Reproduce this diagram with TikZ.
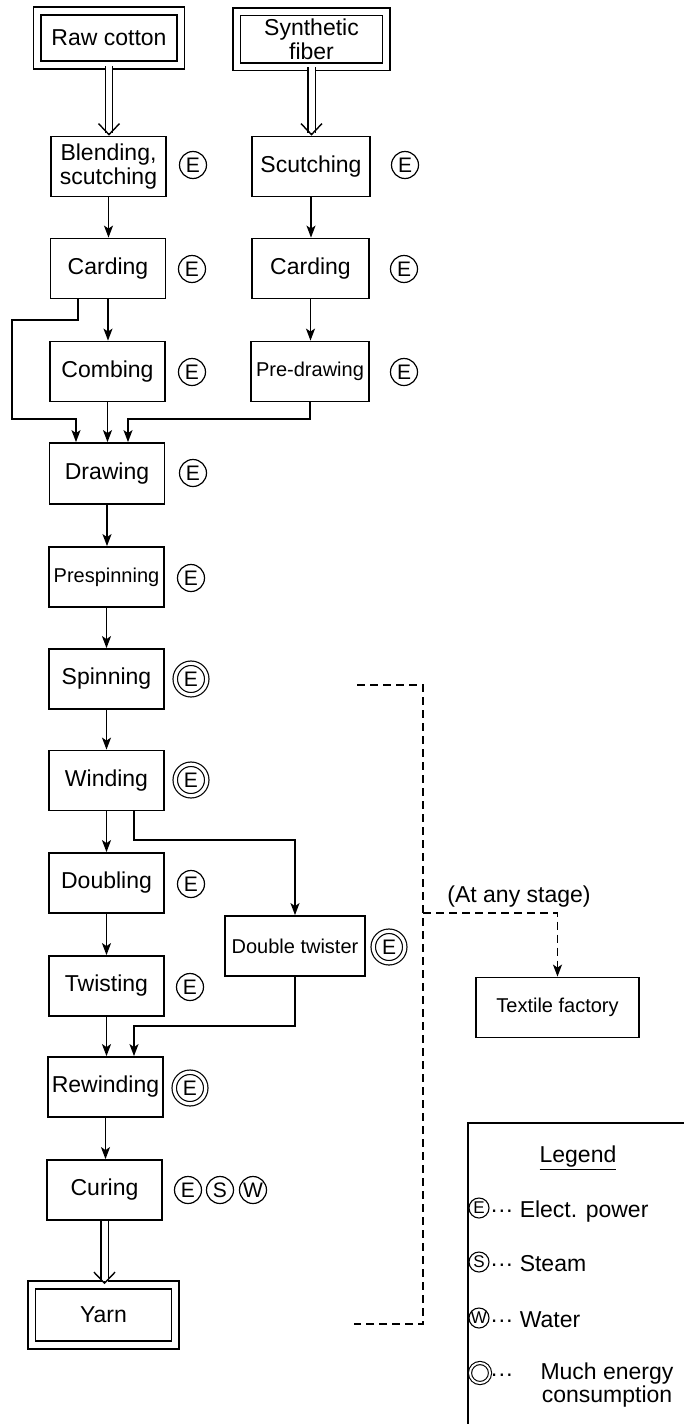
\documentclass[tikz,border=0pt]{standalone}
\usepackage{fontspec}
\setmainfont{Liberation Sans}
\usetikzlibrary{arrows.meta,calc}
\begin{document}
\begin{tikzpicture}[x=0.5pt,y=-0.5pt,
  box/.style={draw, line width=0.9pt, minimum width=57.5pt, minimum height=30pt, inner sep=1pt, font=\fontsize{11.5}{13}\selectfont},
  sbox/.style={box, font=\fontsize{10}{12}\selectfont},
  dbox/.style={draw, double, line width=0.8pt, double distance=3pt, inner sep=1pt, align=center, font=\fontsize{11.5}{12}\selectfont},
  arr/.style={line width=0.75pt, -{Stealth[length=6pt,width=4.5pt,inset=1.5pt]}},
  dline/.style={line width=0.7pt, double, double distance=3pt},
  vtip/.style={line width=0.7pt, -{Straight Barb[length=5.5pt,width=10.5pt]}},
  dsh/.style={line width=0.75pt, dash pattern=on 4pt off 2.5pt},
  en/.style={circle, draw, line width=0.6pt, inner sep=0pt, minimum size=13.5pt, font=\fontsize{10.5}{11}\selectfont},
  een/.style={en, double, double distance=1.6pt, minimum size=15.75pt},
  len/.style={circle, draw, line width=0.55pt, inner sep=0pt, minimum size=10pt, font=\fontsize{8.5}{9}\selectfont},
  leen/.style={len, double, double distance=1pt},
  txt/.style={inner sep=0pt, font=\fontsize{11.5}{13}\selectfont},
]
\useasboundingbox (0,0) rectangle (684,1424);

% process boxes
\node[dbox, minimum width=71.75pt, minimum height=27pt] (raw) at (109,38) {Raw cotton};
\node[dbox, minimum width=74.75pt, minimum height=27.5pt] (syn) at (311.5,39) {Synthetic\\fiber};
\node[box, align=center, font=\fontsize{11.5}{12}\selectfont] (blend) at (108.5,166.5) {Blending,\\scutching};
\node[box, minimum width=59pt] (scut) at (311,166.5) {Scutching};
\node[box] (card1) at (108,268.5) {Carding};
\node[box, minimum width=58.5pt] (card2) at (310.5,268.5) {Carding};
\node[box] (comb) at (107.5,371.5) {Combing};
\node[sbox, minimum width=59pt] (pred) at (310,371.5) {Pre-drawing};
\node[box, minimum height=30.5pt] (drw) at (107,473.5) {Drawing};
\node[sbox] (presp) at (106.5,577) {Prespinning};
\node[box] (spin) at (106.5,679) {Spinning};
\node[box] (wind) at (106.5,780.5) {Winding};
\node[box] (doub) at (106.5,883) {Doubling};
\node[box] (twist) at (106.5,986) {Twisting};
\node[sbox, minimum width=70pt] (dtw) at (295,946) {Double twister};
\node[box] (rew) at (105.5,1087) {Rewinding};
\node[box] (cure) at (104.5,1190) {Curing};
\node[dbox, minimum width=71.75pt, minimum height=30pt] (yarn) at (103.5,1315) {Yarn};
\node[sbox, minimum width=81.5pt] (tex) at (557.5,1007.5) {Textile factory};
\node[txt] (stage) at (519,897) {(At any stage)};

% energy marks
\node[en] (e1) at (193,165) {E};
\node[en] (e2) at (405,165) {E};
\node[en] (e3) at (192,269) {E};
\node[en] (e4) at (404,269) {E};
\node[en] (e5) at (192,372) {E};
\node[en] (e6) at (404,372) {E};
\node[en] (e7) at (193,473) {E};
\node[en] (e8) at (191,578) {E};
\node[een] (e9) at (191,679) {E};
\node[een] (e10) at (191,780) {E};
\node[en] (e11) at (191,884) {E};
\node[en] (e12) at (190,987) {E};
\node[een] (e13) at (389,947) {E};
\node[een] (e14) at (190,1088) {E};
\node[en] (e15) at (188,1190) {E};
\node[en] (s15) at (220,1190) {S};
\node[en] (w15) at (253,1190) {W};

% double arrows
\draw[dline] (raw.south) -- ([yshift=1.2pt]raw.south |- blend.north);
\draw[vtip] ([yshift=1.5pt]raw.south |- blend.north) -- (raw.south |- blend.north);
\draw[dline] (syn.south) -- ([yshift=1.2pt]syn.south |- scut.north);
\draw[vtip] ([yshift=1.5pt]syn.south |- scut.north) -- (syn.south |- scut.north);
\draw[dline] (cure.south) -- ([yshift=1.2pt]cure.south |- yarn.north);
\draw[vtip] ([yshift=1.5pt]cure.south |- yarn.north) -- (cure.south |- yarn.north);

% single arrows
\draw[arr] (blend.south) -- (blend.south |- card1.north);
\draw[arr] (scut.south) -- (scut.south |- card2.north);
\draw[arr] (card1.south) -- (card1.south |- comb.north);
\draw[arr] (card2.south) -- (card2.south |- pred.north);
\draw[arr] (comb.south) -- (comb.south |- drw.north);
\draw[arr] ([xshift=-15pt]card1.south) |- (12,320) -- (12,419) -| ([xshift=-15.5pt]drw.north);
\draw[arr] (pred.south) -- (310,419) -| ([xshift=10.5pt]drw.north);
\draw[arr] (drw.south) -- (drw.south |- presp.north);
\draw[arr] (presp.south) -- (presp.south |- spin.north);
\draw[arr] (spin.south) -- (spin.south |- wind.north);
\draw[arr] (wind.south) -- (wind.south |- doub.north);
\draw[arr] ([xshift=13.75pt]wind.south) |- (295,840) -- (dtw.north);
\draw[arr] (doub.south) -- (doub.south |- twist.north);
\draw[arr] (twist.south) -- (twist.south |- rew.north);
\draw[arr] (dtw.south) -- (295,1026) -| ([xshift=14.25pt]rew.north);
\draw[arr] (rew.south) -- (rew.south |- cure.north);

% dashed link
\coordinate (d1) at (357,685);
\coordinate (d2) at (354,1324);
\draw[dsh] (d1) -- (423,685) -- (423,1324) -- (d2);
\draw[dsh, arr] (423,913) -| (tex.north);

% legend
\draw[line width=0.8pt] (684,1123) -- (468,1123) -- (468,1424);
\node[txt, anchor=base] (lgt) at (578,1162) {\underline{Legend}};
\node[len] (le) at (479,1208) {E};
\node[txt, anchor=base west] (let) at (490,1217) {··· Elect. power};
\node[len] (ls) at (479,1262) {S};
\node[txt, anchor=base west] (lst) at (490,1271) {··· Steam};
\node[len] (lw) at (479,1318) {W};
\node[txt, anchor=base west] (lwt) at (490,1327) {··· Water};
\node[leen] (lm) at (480,1373) {};
\node[txt, anchor=base west] (lmd) at (490,1381) {···};
\node[txt, align=center, font=\fontsize{11.5}{10}\selectfont] (lmt) at (607,1385) {Much energy\\consumption};
\end{tikzpicture}
\end{document}
